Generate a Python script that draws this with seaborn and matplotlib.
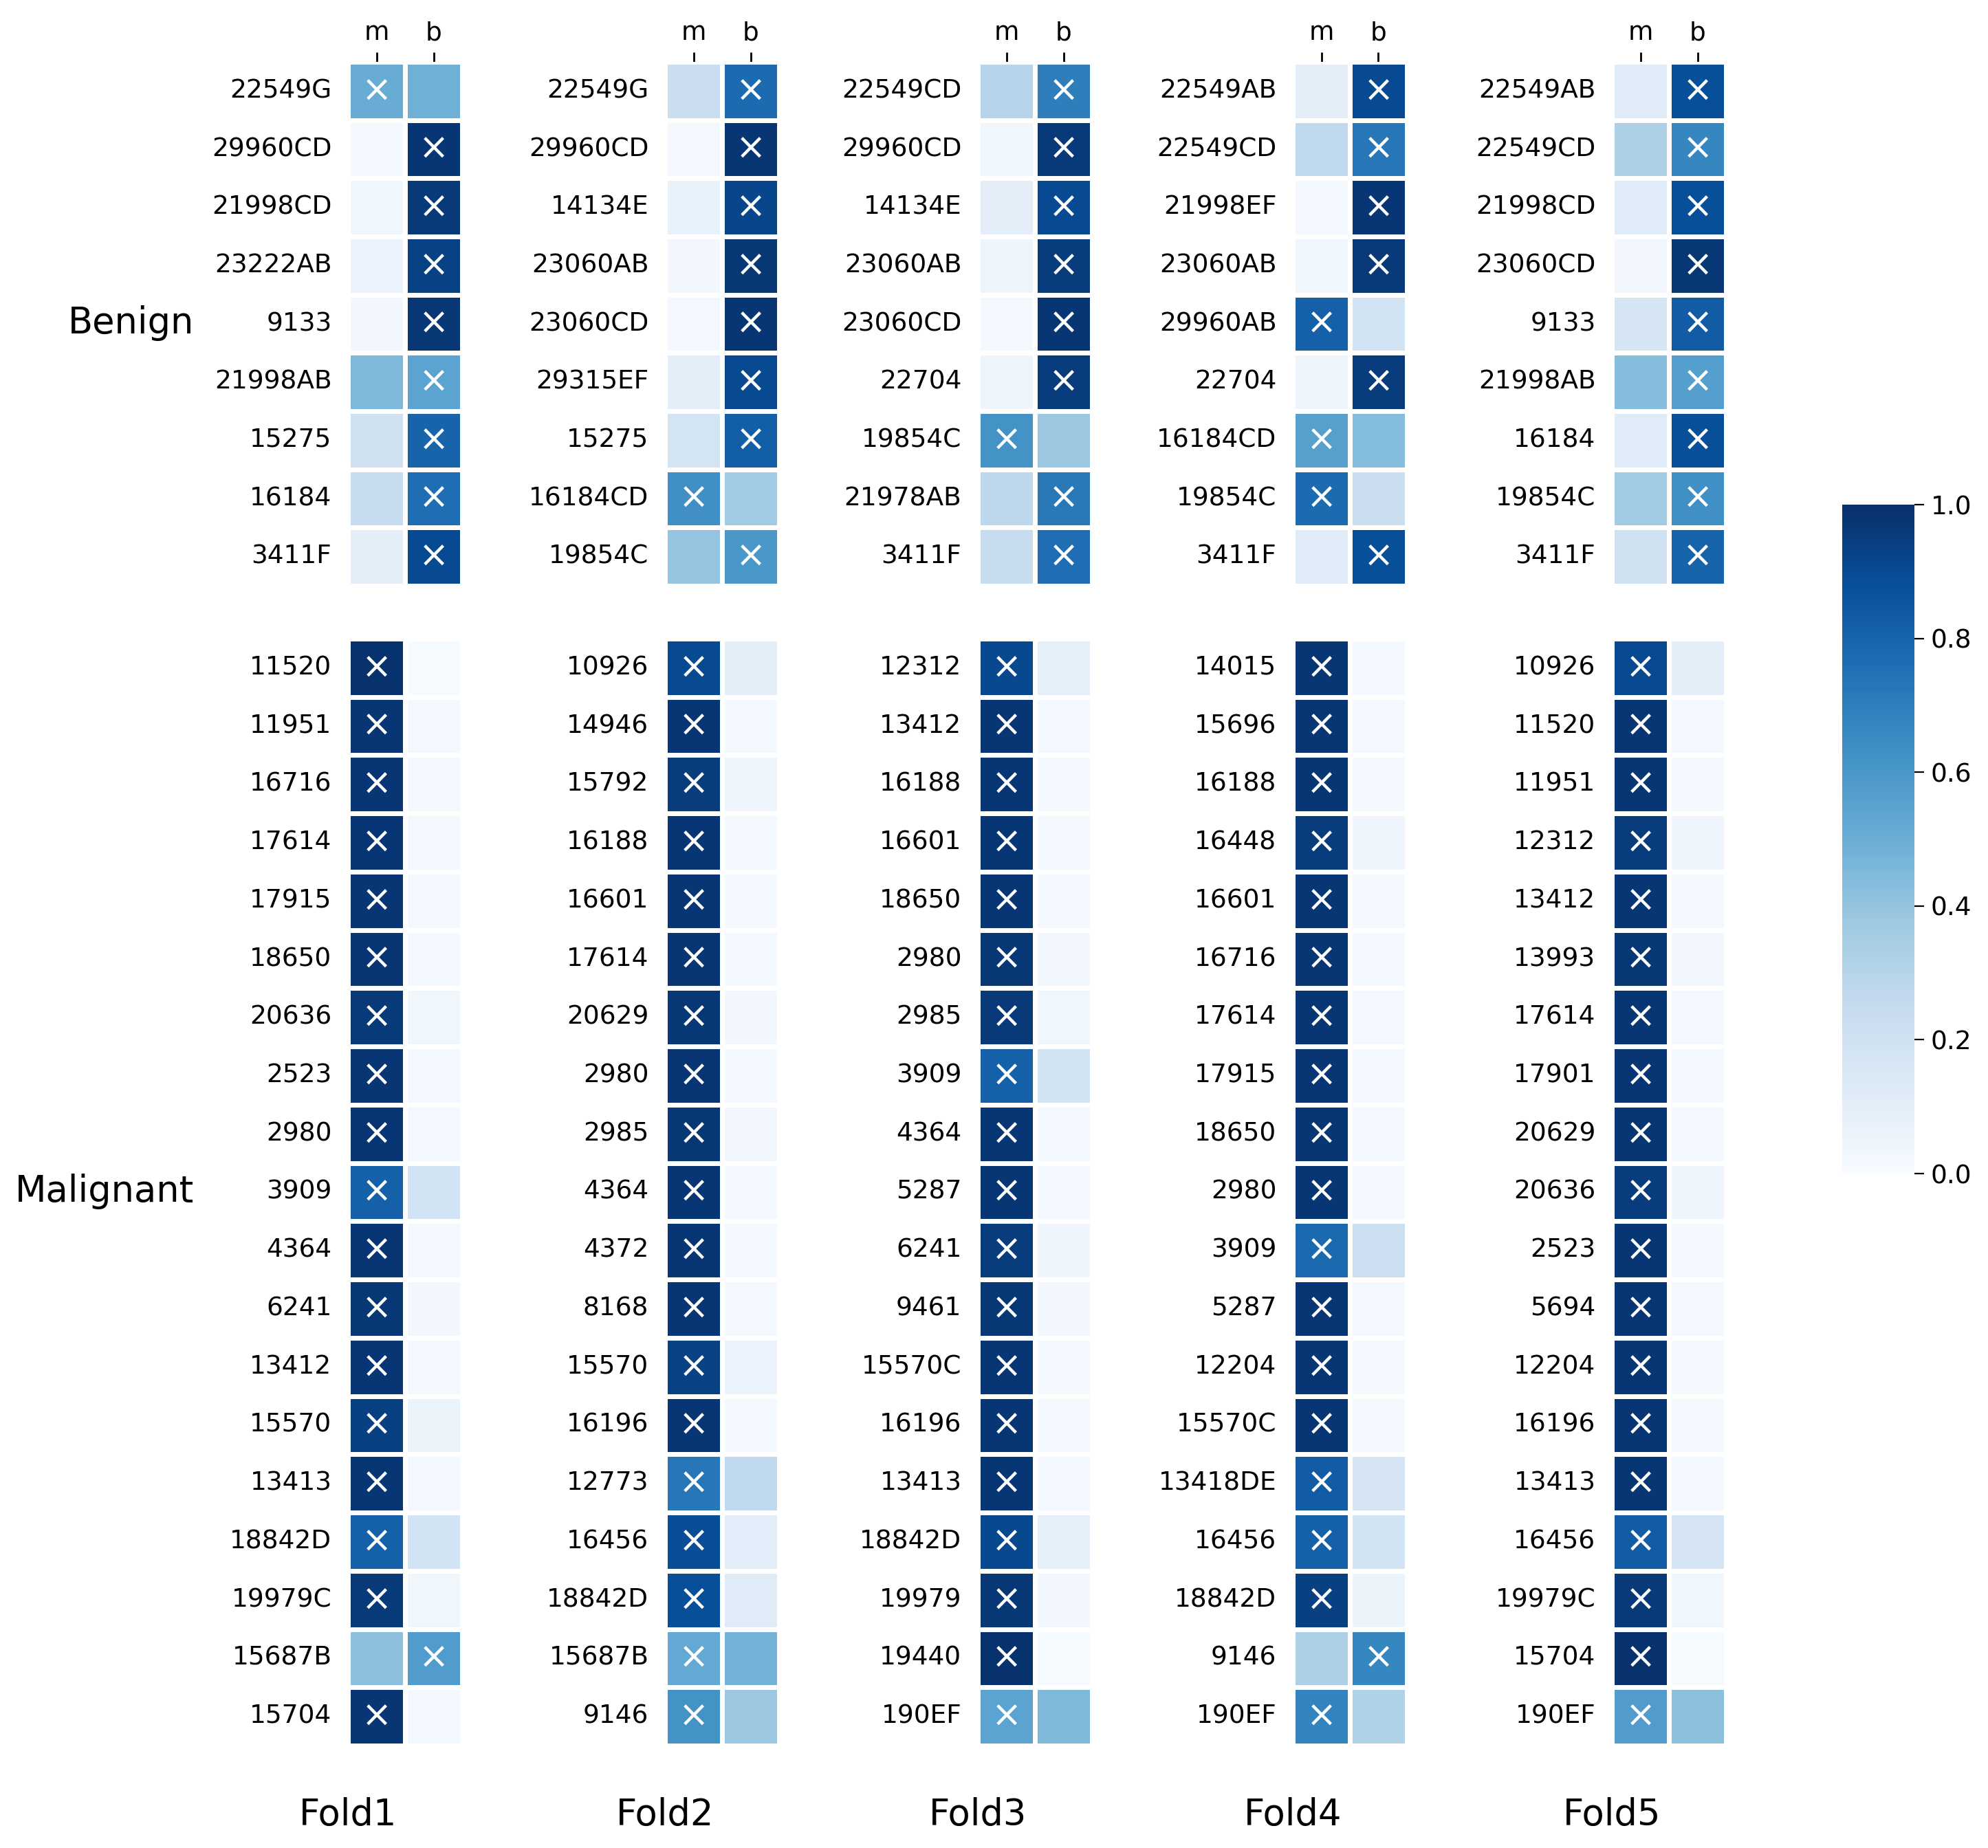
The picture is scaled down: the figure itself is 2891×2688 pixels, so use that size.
import numpy as np
import pandas as pd
import matplotlib
matplotlib.use('Agg')
import matplotlib.pyplot as plt
import seaborn as sns

# parameters
W_PX, H_PX = 2891, 2688
DPI = 200
folds = ['Fold1', 'Fold2', 'Fold3', 'Fold4', 'Fold5']
columns = ['m', 'b']

# benign test samples per fold (ids, P(malignant), P(benign))
benign_ids = [
    ['22549G', '29960CD', '21998CD', '23222AB', '9133', '21998AB', '15275', '16184', '3411F'],
    ['22549G', '29960CD', '14134E', '23060AB', '23060CD', '29315EF', '15275', '16184CD', '19854C'],
    ['22549CD', '29960CD', '14134E', '23060AB', '23060CD', '22704', '19854C', '21978AB', '3411F'],
    ['22549AB', '22549CD', '21998EF', '23060AB', '29960AB', '22704', '16184CD', '19854C', '3411F'],
    ['22549AB', '22549CD', '21998CD', '23060CD', '9133', '21998AB', '16184', '19854C', '3411F'],
]
benign_m = [
    [0.51, 0.02, 0.04, 0.07, 0.03, 0.45, 0.20, 0.24, 0.10],
    [0.23, 0.02, 0.08, 0.03, 0.02, 0.10, 0.18, 0.63, 0.40],
    [0.30, 0.04, 0.10, 0.05, 0.02, 0.05, 0.62, 0.28, 0.24],
    [0.10, 0.27, 0.02, 0.04, 0.81, 0.05, 0.56, 0.77, 0.12],
    [0.12, 0.33, 0.12, 0.03, 0.17, 0.43, 0.12, 0.37, 0.20],
]
benign_b = [
    [0.49, 0.98, 0.96, 0.93, 0.97, 0.55, 0.80, 0.76, 0.90],
    [0.77, 0.98, 0.92, 0.97, 0.98, 0.90, 0.82, 0.37, 0.60],
    [0.70, 0.96, 0.90, 0.95, 0.98, 0.95, 0.38, 0.72, 0.76],
    [0.90, 0.73, 0.98, 0.96, 0.19, 0.95, 0.44, 0.23, 0.88],
    [0.88, 0.67, 0.88, 0.97, 0.83, 0.57, 0.88, 0.63, 0.80],
]

# malignant test samples per fold
malignant_ids = [
    ['11520', '11951', '16716', '17614', '17915', '18650', '20636', '2523', '2980', '3909',
     '4364', '6241', '13412', '15570', '13413', '18842D', '19979C', '15687B', '15704'],
    ['10926', '14946', '15792', '16188', '16601', '17614', '20629', '2980', '2985', '4364',
     '4372', '8168', '15570', '16196', '12773', '16456', '18842D', '15687B', '9146'],
    ['12312', '13412', '16188', '16601', '18650', '2980', '2985', '3909', '4364', '5287',
     '6241', '9461', '15570C', '16196', '13413', '18842D', '19979', '19440', '190EF'],
    ['14015', '15696', '16188', '16448', '16601', '16716', '17614', '17915', '18650', '2980',
     '3909', '5287', '12204', '15570C', '13418DE', '16456', '18842D', '9146', '190EF'],
    ['10926', '11520', '11951', '12312', '13412', '13993', '17614', '17901', '20629', '20636',
     '2523', '5694', '12204', '16196', '13413', '16456', '19979C', '15704', '190EF'],
]
malignant_m = [
    [0.99, 0.98, 0.98, 0.98, 0.98, 0.98, 0.96, 0.98, 0.98, 0.81,
     0.98, 0.97, 0.98, 0.94, 0.98, 0.81, 0.96, 0.42, 0.98],
    [0.90, 0.98, 0.95, 0.98, 0.98, 0.98, 0.97, 0.98, 0.97, 0.98,
     0.98, 0.98, 0.93, 0.98, 0.73, 0.89, 0.88, 0.52, 0.62],
    [0.91, 0.98, 0.98, 0.98, 0.98, 0.97, 0.96, 0.81, 0.98, 0.98,
     0.95, 0.97, 0.98, 0.98, 0.98, 0.91, 0.97, 0.99, 0.55],
    [0.98, 0.98, 0.98, 0.95, 0.98, 0.98, 0.98, 0.98, 0.98, 0.98,
     0.78, 0.98, 0.98, 0.98, 0.83, 0.81, 0.94, 0.33, 0.68],
    [0.90, 0.98, 0.98, 0.95, 0.98, 0.97, 0.98, 0.98, 0.98, 0.95,
     0.98, 0.98, 0.98, 0.98, 0.98, 0.83, 0.96, 0.99, 0.58],
]
malignant_b = [
    [0.01, 0.02, 0.02, 0.02, 0.02, 0.02, 0.04, 0.02, 0.02, 0.19,
     0.02, 0.03, 0.02, 0.06, 0.02, 0.19, 0.04, 0.58, 0.02],
    [0.10, 0.02, 0.05, 0.02, 0.02, 0.02, 0.03, 0.02, 0.03, 0.02,
     0.02, 0.02, 0.07, 0.02, 0.27, 0.11, 0.12, 0.48, 0.38],
    [0.09, 0.02, 0.02, 0.02, 0.02, 0.03, 0.04, 0.19, 0.02, 0.02,
     0.05, 0.03, 0.02, 0.02, 0.02, 0.09, 0.03, 0.01, 0.45],
    [0.02, 0.02, 0.02, 0.05, 0.02, 0.02, 0.02, 0.02, 0.02, 0.02,
     0.22, 0.02, 0.02, 0.02, 0.17, 0.19, 0.06, 0.67, 0.32],
    [0.10, 0.02, 0.02, 0.05, 0.02, 0.03, 0.02, 0.02, 0.02, 0.05,
     0.02, 0.02, 0.02, 0.02, 0.02, 0.17, 0.04, 0.01, 0.42],
]

# layout (pixel boxes measured on the reference, converted to figure fractions)
heat_left = [506, 967, 1422, 1880, 2344]
heat_width = 166
benign_box = (90, 852)
malignant_box = (929, 2539)
cbar_box = (2679, 734, 105, 973)


def fig_rect(x, y_top, w, h):
    return [x / W_PX, 1 - (y_top + h) / H_PX, w / W_PX, h / H_PX]


def make_frame(ids, m, b):
    df = pd.DataFrame({'m': m, 'b': b}, index=ids)
    marks = np.where(df.values == df.values.max(axis=1, keepdims=True), '\u00d7', '')
    return df, marks


sns.set_style('white')
plt.rcParams['font.family'] = ['DejaVu Sans']
plt.rcParams['text.color'] = 'black'
plt.rcParams['xtick.color'] = 'black'
plt.rcParams['ytick.color'] = 'black'
plt.rcParams['axes.labelcolor'] = 'black'

fig = plt.figure(figsize=(W_PX / DPI, H_PX / DPI), dpi=DPI)
cbar_ax = fig.add_axes(fig_rect(*cbar_box))

for i, fold in enumerate(folds):
    for j, (ids, mv, bv, box) in enumerate([
            (benign_ids[i], benign_m[i], benign_b[i], benign_box),
            (malignant_ids[i], malignant_m[i], malignant_b[i], malignant_box)]):
        df, marks = make_frame(ids, mv, bv)
        ax = fig.add_axes(fig_rect(heat_left[i], box[0], heat_width, box[1] - box[0]))
        first = (i == 0 and j == 0)
        sns.heatmap(df, ax=ax, cmap='Blues', vmin=0, vmax=1,
                    linewidths=2.5, linecolor='white',
                    annot=marks, fmt='', annot_kws={'color': 'white', 'fontsize': 19},
                    cbar=first, cbar_ax=cbar_ax if first else None,
                    xticklabels=columns if j == 0 else False)
        ax.set_yticklabels(ids, rotation=0, fontsize=13.5)
        ax.tick_params(axis='y', length=5, width=1)
        if j == 0:
            ax.xaxis.tick_top()
            ax.tick_params(axis='x', length=5, width=1, labelsize=13.5, rotation=0)
        ax.set_xlabel('')
        ax.set_ylabel('')

    fig.text(heat_left[i] / W_PX, 1 - 2640 / H_PX, fold, ha='center', va='center', fontsize=19)

fig.text(282 / W_PX, 1 - 470 / H_PX, 'Benign', ha='right', va='center', fontsize=19)
fig.text(282 / W_PX, 1 - 1733 / H_PX, 'Malignant', ha='right', va='center', fontsize=19)

cbar_ax.tick_params(labelsize=13.5, length=5)
cbar_ax.set_yticks([0.0, 0.2, 0.4, 0.6, 0.8, 1.0])

fig.savefig('out.png', dpi=DPI)
